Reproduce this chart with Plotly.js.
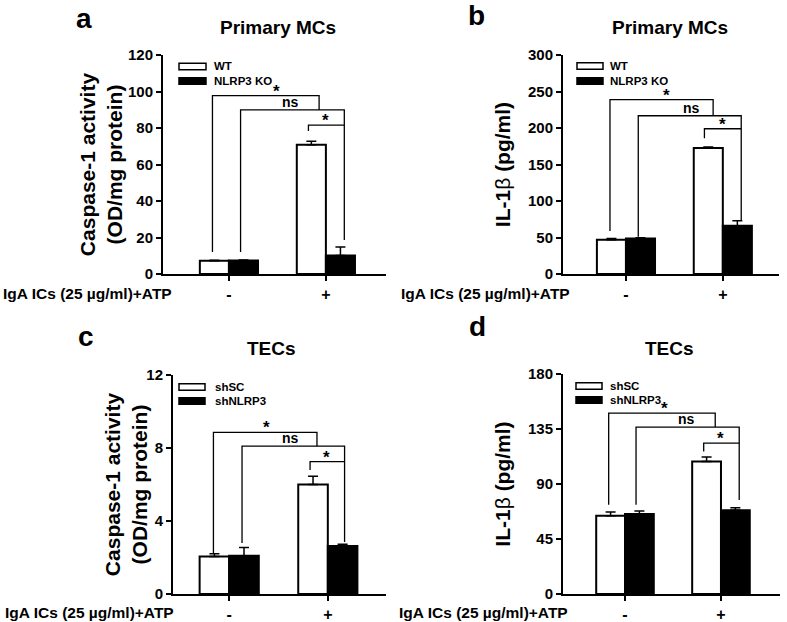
<!DOCTYPE html>
<html><head><meta charset="utf-8">
<script src="https://cdn.plot.ly/plotly-3.0.1.min.js"></script>
<style>html,body{margin:0;padding:0;background:#fff}</style>
</head><body><div id="chart" style="width:787px;height:622px"></div>
<script>
// ---------------- data ----------------
const conditions = ['-', '+'];
const rowLabel = 'IgA ICs (25 µg/ml)+ATP';

// Panel a: Primary MCs, Caspase-1 activity
const aGroups = ['WT', 'NLRP3 KO'];
const aWT = [7.2, 70.8];
const aWTerr = [0.3, 2.0];
const aKO = [7.4, 10.2];
const aKOerr = [0.3, 4.6];
const aTicks = [0, 20, 40, 60, 80, 100, 120];
// brackets: [xLeft, yLeftBottom, yLevel, xRight, yRightBottom]
const aBrTop = [-0.17, 12, 97.7, 0.93, 89.9];
const aBrNs = [0.12, 12, 89.9, 1.19, 18.6];
const aBrSm = [0.82, 78.4, 81.6, 1.19, 81.6];
const aBrLabelX = [0.49, 0.63, 1.0];

// Panel b: Primary MCs, IL-1beta
const bGroups = ['WT', 'NLRP3 KO'];
const bWT = [47, 172.5];
const bWTerr = [1.5, 1.5];
const bKO = [48.5, 66];
const bKOerr = [1.0, 7.0];
const bTicks = [0, 50, 100, 150, 200, 250, 300];
const bBrTop = [-0.165, 59, 239, 0.9, 216.8];
const bBrNs = [0.127, 51, 216.8, 1.19, 74];
const bBrSm = [0.81, 186, 199, 1.19, 199];
const bBrLabelX = [0.42, 0.68, 1.0];

// Panel c: TECs, Caspase-1 activity
const cGroups = ['shSC', 'shNLRP3'];
const cWT = [2.05, 6.0];
const cWTerr = [0.15, 0.45];
const cKO = [2.1, 2.63];
const cKOerr = [0.45, 0.1];
const cTicks = [0, 4, 8, 12];
const cBrTop = [-0.16, 2.25, 8.86, 0.89, 8.1];
const cBrNs = [0.13, 2.8, 8.1, 1.17, 2.85];
const cBrSm = [0.82, 6.8, 7.25, 1.17, 7.25];
const cBrLabelX = [0.38, 0.62, 0.99];

// Panel d: TECs, IL-1beta
const dGroups = ['shSC', 'shNLRP3'];
const dWT = [64, 108.5];
const dWTerr = [3.0, 3.5];
const dKO = [65.5, 68.5];
const dKOerr = [2.5, 2.0];
const dTicks = [0, 45, 90, 135, 180];
const dBrTop = [-0.17, 73, 148, 0.94, 136.6];
const dBrNs = [0.115, 73, 136.6, 1.19, 77];
const dBrSm = [0.82, 116.6, 123.5, 1.19, 123.5];
const dBrLabelX = [0.41, 0.64, 1.0];

const bracketLabels = ['*', 'ns', '*'];

// ---------------- layout helpers ----------------
const W = 787, H = 622;
const PX = x => x / W;
const PY = y => 1 - y / H;
const FONT = 'Liberation Sans, Arial, sans-serif';

const panels = [
  {letter: 'a', title: 'Primary MCs', ytitle: 'Caspase-1 activity<br>(OD/mg protein)',
   groups: aGroups, v1: aWT, e1: aWTerr, v2: aKO, e2: aKOerr, ticks: aTicks,
   br: [aBrTop, aBrNs, aBrSm], brX: aBrLabelX,
   box: [163, 386, 55, 274], xr: [-0.68, 1.62],
   letterPos: [84, 18], titlePos: [278, 28], rowPos: [174, 293],
   leg: {sx: [179, 206], rows: [66.5, 81], tx: 212}},
  {letter: 'b', title: 'Primary MCs', ytitle: 'IL-1<span style="font-weight:normal">β</span> (pg/ml)',
   groups: bGroups, v1: bWT, e1: bWTerr, v2: bKO, e2: bKOerr, ticks: bTicks,
   br: [bBrTop, bBrNs, bBrSm], brX: bBrLabelX,
   box: [563, 779, 55, 274], xr: [-0.65, 1.58],
   letterPos: [476, 16], titlePos: [670, 28], rowPos: [572, 293],
   leg: {sx: [577, 603], rows: [66, 81], tx: 608}},
  {letter: 'c', title: 'TECs', ytitle: 'Caspase-1 activity<br>(OD/mg protein)',
   groups: cGroups, v1: cWT, e1: cWTerr, v2: cKO, e2: cKOerr, ticks: cTicks,
   br: [cBrTop, cBrNs, cBrSm], brX: cBrLabelX,
   box: [173, 386, 375, 594], xr: [-0.57, 1.59],
   letterPos: [86, 336], titlePos: [271, 348], rowPos: [176, 612],
   leg: {sx: [179, 205], rows: [387, 401], tx: 213}},
  {letter: 'd', title: 'TECs', ytitle: 'IL-1<span style="font-weight:normal">β</span> (pg/ml)',
   groups: dGroups, v1: dWT, e1: dWTerr, v2: dKO, e2: dKOerr, ticks: dTicks,
   br: [dBrTop, dBrNs, dBrSm], brX: dBrLabelX,
   box: [563, 780, 374, 594], xr: [-0.646, 1.615],
   letterPos: [477, 326], titlePos: [669, 348], rowPos: [570, 612],
   leg: {sx: [576, 602], rows: [386, 400], tx: 608}}
];

const traces = [];
const shapes = [];
const annotations = [];
const layout = {
  width: W, height: H,
  margin: {l: 0, r: 0, t: 0, b: 0},
  paper_bgcolor: '#fff', plot_bgcolor: '#fff',
  showlegend: false,
  barmode: 'group', bargap: 0.4, bargroupgap: 0,
  font: {family: FONT, color: '#000', size: 14, weight: 'bold'},
  shapes: shapes, annotations: annotations
};

const xPos = conditions.map((c, i) => i);

panels.forEach((p, i) => {
  const n = i === 0 ? '' : String(i + 1);
  const xa = 'x' + n, ya = 'y' + n;
  const [bx0, bx1, by0, by1] = p.box;
  const ymax = p.ticks[p.ticks.length - 1];

  layout['xaxis' + n] = {
    domain: [PX(bx0), PX(bx1)], anchor: ya, range: p.xr,
    showline: true, linewidth: 2, linecolor: '#000',
    ticks: 'outside', ticklen: 5, tickwidth: 2, tickcolor: '#000',
    tickvals: xPos, ticktext: conditions,
    tickfont: {family: FONT, size: 16, weight: 'bold'},
    showgrid: false, zeroline: false, fixedrange: true
  };
  layout['yaxis' + n] = {
    domain: [PY(by1), PY(by0)], anchor: xa, range: [0, ymax],
    showline: true, linewidth: 2, linecolor: '#000',
    ticks: 'outside', ticklen: 5, tickwidth: 2, tickcolor: '#000',
    tickvals: p.ticks, tickfont: {family: FONT, size: 15, weight: 'bold'},
    showgrid: false, zeroline: false, fixedrange: true,
    title: {text: p.ytitle, font: {family: FONT, size: 21, weight: 'bold'}}
  };

  traces.push({
    type: 'bar', name: p.groups[0], x: xPos, y: p.v1, xaxis: xa, yaxis: ya,
    marker: {color: '#fff', line: {color: '#000', width: 2}},
    error_y: {type: 'data', symmetric: false, array: p.e1, arrayminus: p.e1.map(() => 0),
              color: '#000', thickness: 1.5, width: 5},
    hoverinfo: 'name+y'
  });
  traces.push({
    type: 'bar', name: p.groups[1], x: xPos, y: p.v2, xaxis: xa, yaxis: ya,
    marker: {color: '#000', line: {color: '#000', width: 2}},
    error_y: {type: 'data', symmetric: false, array: p.e2, arrayminus: p.e2.map(() => 0),
              color: '#000', thickness: 1.5, width: 5},
    hoverinfo: 'name+y'
  });

  // significance brackets
  const [top, ns, sm] = p.br;
  shapes.push({type: 'path', xref: xa, yref: ya, line: {color: '#000', width: 1.3},
    path: `M${top[0]},${top[1]} V${top[2]} H${top[3]} V${top[4]}`});
  shapes.push({type: 'path', xref: xa, yref: ya, line: {color: '#000', width: 1.3},
    path: `M${ns[0]},${ns[1]} V${ns[2]} H${ns[3]} V${ns[4]}`});
  shapes.push({type: 'path', xref: xa, yref: ya, line: {color: '#000', width: 1.3},
    path: `M${sm[0]},${sm[1]} V${sm[2]} H${sm[3]}`});
  [top, ns, sm].forEach((b, k) => {
    const isStar = bracketLabels[k] === '*';
    annotations.push({xref: xa, yref: ya, x: p.brX[k], y: b[2], text: bracketLabels[k],
      showarrow: false, xanchor: 'center', yanchor: 'bottom',
      yshift: isStar ? -7 : -2,
      font: {size: isStar ? 17 : 14, weight: 'bold'}});
  });

  // legend (manual, compact like the reference)
  const fills = ['#fff', '#000'];
  p.leg.rows.forEach((ry, k) => {
    shapes.push({type: 'rect', xref: 'paper', yref: 'paper',
      x0: PX(p.leg.sx[0]), x1: PX(p.leg.sx[1]), y0: PY(ry + 3.3), y1: PY(ry - 3.3),
      fillcolor: fills[k], line: {color: '#000', width: 1.5}});
    annotations.push({xref: 'paper', yref: 'paper', x: PX(p.leg.tx), y: PY(ry),
      text: p.groups[k], showarrow: false, xanchor: 'left', yanchor: 'middle',
      font: {size: 11.5, weight: 'bold'}});
  });

  // panel letter, title, row label
  annotations.push({xref: 'paper', yref: 'paper', x: PX(p.letterPos[0]), y: PY(p.letterPos[1]),
    text: p.letter, showarrow: false, xanchor: 'center', yanchor: 'middle',
    font: {size: 28, weight: 'bold'}});
  annotations.push({xref: 'paper', yref: 'paper', x: PX(p.titlePos[0]), y: PY(p.titlePos[1]),
    text: p.title, showarrow: false, xanchor: 'center', yanchor: 'middle',
    font: {size: 19, weight: 'bold'}});
  annotations.push({xref: 'paper', yref: 'paper', x: PX(p.rowPos[0]), y: PY(p.rowPos[1]),
    text: rowLabel, showarrow: false, xanchor: 'right', yanchor: 'middle',
    font: {size: 15.5, weight: 'bold'}});
});

Plotly.newPlot('chart', traces, layout, {displayModeBar: false, staticPlot: true});
</script>
</body></html>
